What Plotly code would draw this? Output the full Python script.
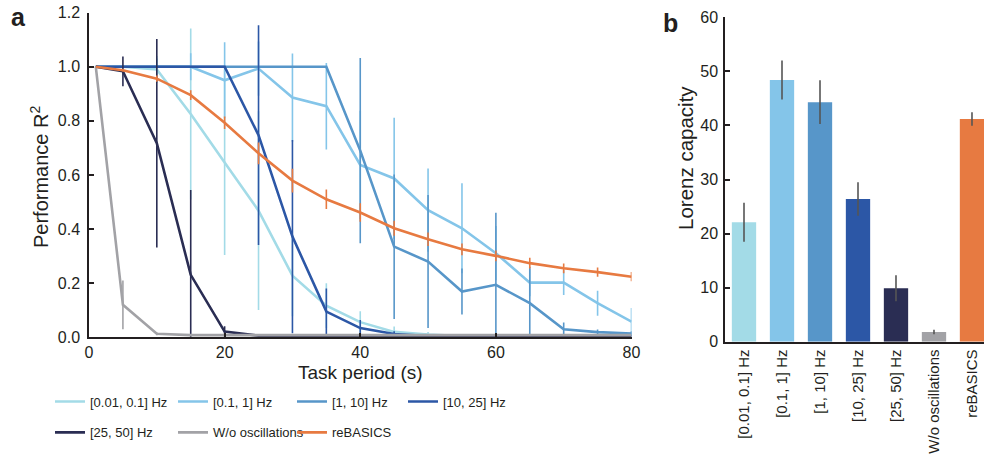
import plotly.graph_objects as go

# ---------------- data ----------------
periods = [1, 5, 10, 15, 20, 25, 30, 35, 40, 45, 50, 55, 60, 65, 70, 75, 80]

series_names = ["[0.01, 0.1] Hz", "[0.1, 1] Hz", "[1, 10] Hz", "[10, 25] Hz",
                "[25, 50] Hz", "W/o oscillations", "reBASICS"]

r2_001_01 = [1.0, 1.0, 0.99, 0.825, 0.646, 0.468, 0.228, 0.117, 0.056, 0.02, 0.01, 0.005, 0.003, 0.003, 0.003, 0.003, 0.003]
err_001_01 = [0, 0, 0.05, 0.316, 0.342, 0.367, 0.15, 0.083, 0.04, 0.02, 0.01, 0, 0, 0, 0, 0, 0]

r2_01_1 = [1.0, 1.0, 1.0, 1.0, 0.95, 0.993, 0.886, 0.854, 0.637, 0.587, 0.47, 0.403, 0.311, 0.202, 0.202, 0.126, 0.058]
err_01_1 = [0, 0, 0.03, 0.05, 0.14, 0.1, 0.163, 0.16, 0.2, 0.224, 0.154, 0.166, 0.1, 0.05, 0.046, 0.046, 0.05]

r2_1_10 = [1.0, 1.0, 1.0, 1.0, 1.0, 1.0, 1.0, 1.0, 0.69, 0.335, 0.28, 0.169, 0.194, 0.126, 0.03, 0.019, 0.014]
err_1_10 = [0, 0, 0, 0, 0, 0, 0, 0, 0.342, 0.267, 0.246, 0.085, 0.266, 0.135, 0.025, 0.01, 0.008]

r2_10_25 = [1.0, 1.0, 1.0, 1.0, 1.0, 0.747, 0.372, 0.095, 0.034, 0.012, 0.005, 0.003, 0.003, 0.003, 0.003, 0.003, 0.003]
err_10_25 = [0, 0, 0, 0, 0, 0.406, 0.357, 0.085, 0.03, 0.01, 0, 0, 0, 0, 0, 0, 0]

r2_25_50 = [1.0, 0.983, 0.717, 0.231, 0.021, 0.006, 0.003, 0.003, 0.003, 0.003, 0.003, 0.003, 0.003, 0.003, 0.003, 0.003, 0.003]
err_25_50 = [0, 0.055, 0.385, 0.313, 0.02, 0, 0, 0, 0, 0, 0, 0, 0, 0, 0, 0, 0]

r2_none = [1.0, 0.12, 0.013, 0.008, 0.008, 0.008, 0.008, 0.008, 0.008, 0.008, 0.008, 0.008, 0.008, 0.008, 0.008, 0.008, 0.008]
err_none = [0, 0.09, 0.005, 0, 0, 0, 0, 0, 0, 0, 0, 0, 0, 0, 0, 0, 0]

r2_rebasics = [1.0, 0.987, 0.956, 0.895, 0.793, 0.68, 0.579, 0.51, 0.461, 0.403, 0.362, 0.325, 0.301, 0.274, 0.255, 0.241, 0.224]
err_rebasics = [0, 0.005, 0.012, 0.018, 0.023, 0.04, 0.044, 0.036, 0.034, 0.028, 0.025, 0.022, 0.02, 0.02, 0.018, 0.017, 0.017]

capacity = [22.1, 48.4, 44.3, 26.4, 9.9, 1.8, 41.2]
capacity_err = [3.6, 3.6, 4.05, 3.1, 2.4, 0.4, 1.25]

y_ticks_a = [0.0, 0.2, 0.4, 0.6, 0.8, 1.0, 1.2]
x_ticks_a = [0, 20, 40, 60, 80]
y_ticks_b = [0, 10, 20, 30, 40, 50, 60]

# ---------------- style ----------------
colors = ["#a3dbe7", "#84c5e9", "#5796c9", "#2c57a6", "#2a2d53", "#a2a2a6", "#e77a41"]
all_r2 = [r2_001_01, r2_01_1, r2_1_10, r2_10_25, r2_25_50, r2_none, r2_rebasics]
all_err = [err_001_01, err_01_1, err_1_10, err_10_25, err_25_50, err_none, err_rebasics]
legend_ids = ["legend", "legend2", "legend3", "legend4", "legend", "legend2", "legend3"]

FONT = "Liberation Sans, Arial, sans-serif"
INK = "#231f20"
W, H = 984, 457

def px_x(p):
    return p / W

def px_y(p):
    return 1 - p / H

fig = go.Figure()

for name, ys, es, col, lg in zip(series_names, all_r2, all_err, colors, legend_ids):
    fig.add_trace(go.Scatter(
        x=periods, y=ys, name=name, mode="lines",
        line=dict(color=col, width=2.6),
        error_y=dict(type="data", array=es, visible=True, color=col, thickness=1.6, width=0),
        xaxis="x", yaxis="y", legend=lg, legendgroup=name,
    ))

fig.add_trace(go.Bar(
    x=series_names, y=capacity, marker=dict(color=colors, line=dict(width=0)),
    error_y=dict(type="data", array=capacity_err, visible=True, color="#555555", thickness=1.6, width=0),
    xaxis="x2", yaxis="y2", showlegend=False, width=0.64,
))

axis_common = dict(showline=True, linecolor=INK, linewidth=1.5, ticks="inside", ticklen=5,
                   tickcolor=INK, tickwidth=1.5, showgrid=False, zeroline=False,
                   automargin=False, tickfont=dict(family=FONT, size=16, color=INK))

leg_common = dict(orientation="v", xanchor="left", yanchor="top", tracegroupgap=11,
                  font=dict(family=FONT, size=13, color=INK), bgcolor="rgba(0,0,0,0)",
                  itemclick=False)

LEG_TOP = 386.5
fig.update_layout(
    width=W, height=H, margin=dict(l=0, r=0, t=0, b=0),
    paper_bgcolor="white", plot_bgcolor="white",
    font=dict(family=FONT, color=INK),
    xaxis=dict(domain=[px_x(89), px_x(631.5)], range=[0, 80], tickvals=x_ticks_a,
               anchor="y", **axis_common),
    yaxis=dict(domain=[px_y(337.3), px_y(12.6)], range=[0, 1.2], tickvals=y_ticks_a,
               tickformat=".1f", anchor="x", ticklabelstandoff=4, **axis_common),
    xaxis2=dict(domain=[px_x(725), 1.0], range=[-0.5, 6.316], type="category", anchor="y2",
                tickangle=-90, showline=True, linecolor=INK, linewidth=1.5, ticks="",
                showgrid=False, zeroline=False, automargin=False,
                tickfont=dict(family=FONT, size=15, color=INK)),
    yaxis2=dict(domain=[px_y(341.7), px_y(17.3)], range=[0, 60], tickvals=y_ticks_b,
                anchor="x2", ticklabelstandoff=2, **axis_common),
    legend=dict(x=px_x(50), y=px_y(LEG_TOP), **leg_common),
    legend2=dict(x=px_x(173), y=px_y(LEG_TOP), **leg_common),
    legend3=dict(x=px_x(292), y=px_y(LEG_TOP), **leg_common),
    legend4=dict(x=px_x(403), y=px_y(LEG_TOP), **leg_common),
    bargap=0.36,
)

annots = [
    dict(text="<b>a</b>", x=px_x(18), y=px_y(17), size=25, angle=0),
    dict(text="<b>b</b>", x=px_x(670), y=px_y(23), size=25, angle=0),
    dict(text="Performance R<sup>2</sup>", x=px_x(40), y=px_y(177), size=20, angle=-90),
    dict(text="Task period (s)", x=px_x(360), y=px_y(372), size=19, angle=0),
    dict(text="Lorenz capacity", x=px_x(685), y=px_y(158), size=20.5, angle=-90),
]
for a in annots:
    fig.add_annotation(xref="paper", yref="paper", showarrow=False, xanchor="center",
                       yanchor="middle", font=dict(family=FONT, color=INK, size=a["size"]),
                       text=a["text"], x=a["x"], y=a["y"], textangle=a["angle"])

fig.write_html("out.html")
